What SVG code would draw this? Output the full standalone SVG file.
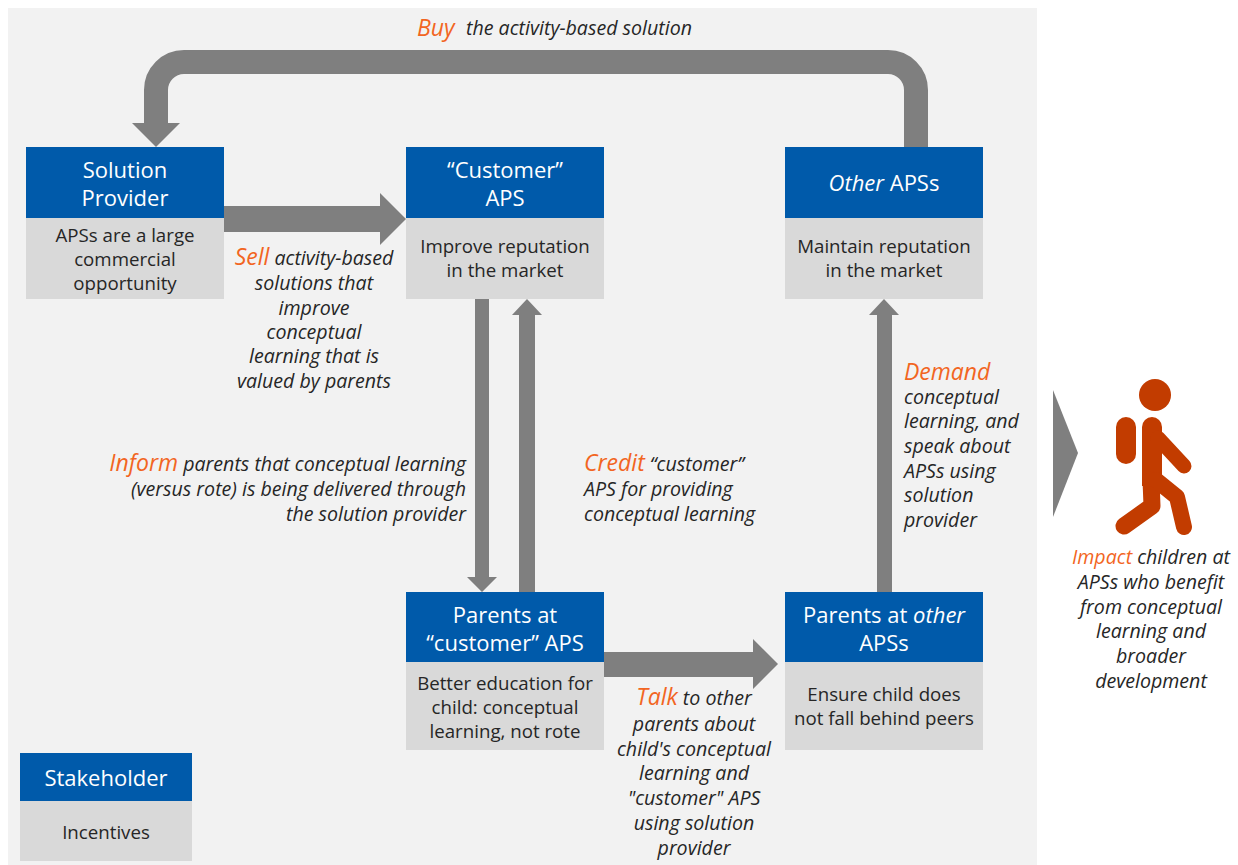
<svg xmlns="http://www.w3.org/2000/svg" width="1238" height="865" viewBox="0 0 1238 865">
<style>
.hd{fill:#005aaa}
.bd{fill:#d9d9d9}
.ht{font-family:"Open Sans","Noto Sans",sans-serif;font-size:22px;fill:#ffffff;text-anchor:middle}
.bt{font-family:"Open Sans","Noto Sans",sans-serif;font-size:18.7px;fill:#262626;text-anchor:middle}
.lb{font-family:"Open Sans","Noto Sans",sans-serif;font-size:19.6px;font-style:italic;fill:#262626}
.kw{font-size:23px;fill:#f26522}
.ar{fill:#7f7f7f}
</style>
<rect x="0" y="0" width="1238" height="865" fill="#ffffff"/>
<rect x="8" y="8" width="1029" height="857" fill="#f2f2f2"/>

<g id="connectors">
<path d="M916,147 V90 A28,28 0 0 0 888,62 H184 A28,28 0 0 0 156,90 V124" fill="none" stroke="#7f7f7f" stroke-width="24"/>
<polygon class="ar" points="132,123 180,123 156,147"/>
<polygon class="ar" points="224,206 380,206 380,193 406,219 380,245 380,232 224,232"/>
<polygon class="ar" points="475,299 489,299 489,577 497,577 482,592 467,577 475,577"/>
<polygon class="ar" points="519,592 535,592 535,315 542,315 527,299 512,315 519,315"/>
<polygon class="ar" points="604,652 753,652 753,639 778,664 753,689 753,677 604,677"/>
<polygon class="ar" points="877,592 892,592 892,315 899,315 884,299 869,315 877,315"/>
<polygon class="ar" points="1053,390 1078,453 1053,517"/>
</g>

<g id="labels">
<text class="lb" y="36"><tspan class="kw" x="417">Buy</tspan><tspan x="466" y="35">the activity-based solution</tspan></text>
<text class="lb" text-anchor="middle"><tspan x="314" y="265"><tspan class="kw">Sell</tspan> activity-based</tspan><tspan x="314" y="290">solutions that</tspan><tspan x="314" y="315">improve</tspan><tspan x="314" y="339">conceptual</tspan><tspan x="314" y="363">learning that is</tspan><tspan x="314" y="388">valued by parents</tspan></text>
<text class="lb" text-anchor="end"><tspan x="466" y="471"><tspan class="kw">Inform</tspan> parents that conceptual learning</tspan><tspan x="466" y="496">(versus rote) is being delivered through</tspan><tspan x="466" y="521">the solution provider</tspan></text>
<text class="lb"><tspan x="584" y="471"><tspan class="kw">Credit</tspan> “customer”</tspan><tspan x="584" y="496">APS for providing</tspan><tspan x="584" y="521">conceptual learning</tspan></text>
<text class="lb"><tspan class="kw" x="904" y="380">Demand</tspan><tspan x="904" y="404">conceptual</tspan><tspan x="904" y="428">learning, and</tspan><tspan x="904" y="453">speak about</tspan><tspan x="904" y="478">APSs using</tspan><tspan x="904" y="502">solution</tspan><tspan x="904" y="527">provider</tspan></text>
<text class="lb" text-anchor="middle"><tspan x="694" y="705"><tspan class="kw">Talk</tspan> to other</tspan><tspan x="694" y="731">parents about</tspan><tspan x="694" y="756">child's conceptual</tspan><tspan x="694" y="780">learning and</tspan><tspan x="694" y="805">"customer" APS</tspan><tspan x="694" y="830">using solution</tspan><tspan x="694" y="855">provider</tspan></text>
<text class="lb" text-anchor="middle" font-size="20.5"><tspan x="1151" y="564"><tspan fill="#f26522">Impact</tspan> children at</tspan><tspan x="1151" y="589">APSs who benefit</tspan><tspan x="1151" y="614">from conceptual</tspan><tspan x="1151" y="638">learning and</tspan><tspan x="1151" y="663">broader</tspan><tspan x="1151" y="688">development</tspan></text>
</g>

<g id="solution-provider">
<rect class="hd" x="26" y="147" width="198" height="71"/>
<rect class="bd" x="26" y="218" width="198" height="81"/>
<text class="ht"><tspan x="125" y="178">Solution</tspan><tspan x="125" y="206">Provider</tspan></text>
<text class="bt"><tspan x="125" y="242">APSs are a large</tspan><tspan x="125" y="266">commercial</tspan><tspan x="125" y="290">opportunity</tspan></text>
</g>

<g id="customer-aps">
<rect class="hd" x="406" y="147" width="198" height="71"/>
<rect class="bd" x="406" y="218" width="198" height="81"/>
<text class="ht"><tspan x="505" y="178">“Customer”</tspan><tspan x="505" y="206">APS</tspan></text>
<text class="bt"><tspan x="505" y="253">Improve reputation</tspan><tspan x="505" y="277">in the market</tspan></text>
</g>

<g id="other-apss">
<rect class="hd" x="785" y="147" width="198" height="71"/>
<rect class="bd" x="785" y="218" width="198" height="81"/>
<text class="ht" x="884" y="191"><tspan font-style="italic">Other</tspan> APSs</text>
<text class="bt"><tspan x="884" y="253">Maintain reputation</tspan><tspan x="884" y="277">in the market</tspan></text>
</g>

<g id="parents-customer">
<rect class="hd" x="406" y="592" width="198" height="70"/>
<rect class="bd" x="406" y="662" width="198" height="88"/>
<text class="ht"><tspan x="505" y="623">Parents at</tspan><tspan x="505" y="651">“customer” APS</tspan></text>
<text class="bt"><tspan x="505" y="690">Better education for</tspan><tspan x="505" y="714">child: conceptual</tspan><tspan x="505" y="738">learning, not rote</tspan></text>
</g>

<g id="parents-other">
<rect class="hd" x="785" y="592" width="198" height="70"/>
<rect class="bd" x="785" y="662" width="198" height="88"/>
<text class="ht"><tspan x="884" y="623">Parents at <tspan font-style="italic">other</tspan></tspan><tspan x="884" y="651">APSs</tspan></text>
<text class="bt"><tspan x="884" y="701">Ensure child does</tspan><tspan x="884" y="725">not fall behind peers</tspan></text>
</g>

<g id="legend">
<rect class="hd" x="20" y="753" width="172" height="48"/>
<rect class="bd" x="20" y="801" width="172" height="60"/>
<text class="ht" x="106" y="786">Stakeholder</text>
<text class="bt" x="106" y="839">Incentives</text>
</g>

<g id="child-icon" fill="#c23c00" stroke="#c23c00" stroke-linecap="round" stroke-linejoin="round">
<circle cx="1155" cy="395" r="16" stroke="none"/>
<rect x="1116" y="417" width="20" height="47" rx="10" stroke="none"/>
<path d="M1142,427 A10,10 0 0 1 1162,427 V486 H1142 Z" stroke="none"/>
<line x1="1158" y1="438" x2="1184" y2="466" stroke-width="15" fill="none"/>
<polyline points="1151,480 1152,506 1124,526" stroke-width="17" fill="none"/>
<polyline points="1156,480 1177,497 1184,527" stroke-width="16" fill="none"/>
</g>
</svg>
